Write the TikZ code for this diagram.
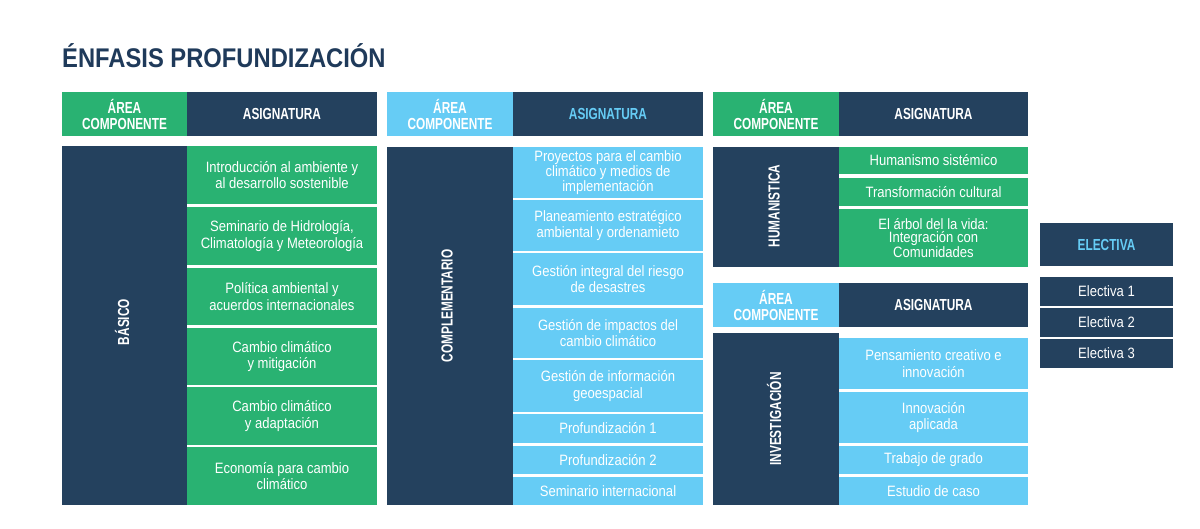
\documentclass[tikz,border=0pt]{standalone}
\usepackage{fontspec}
\setmainfont{Liberation Sans}
\newfontfamily\cnreg[FakeStretch=0.87]{Liberation Sans}
\newfontfamily\cnbold[FakeStretch=0.74]{Liberation Sans}
\newfontfamily\ttlfont[FakeStretch=0.88]{Liberation Sans}
\definecolor{navy}{RGB}{36,65,94}
\definecolor{grn}{RGB}{41,178,114}
\definecolor{lblue}{RGB}{102,204,245}
\definecolor{ttlc}{RGB}{31,58,90}
\newcommand\cellbox[7]{% name, style, x1, y1, x2, y2, text
  \pgfmathsetmacro\bw{#5-#3}\pgfmathsetmacro\bh{#6-#4}%
  \node[#2, minimum width=\bw pt, minimum height=\bh pt] (#1) at ({(#3+#5)/2},{(#4+#6)/2}) {#7};}
\tikzset{
  cell/.style={inner sep=0pt, outer sep=0pt, align=center, text=white},
  rowtxt/.style={cell, font=\cnreg\fontsize{15}{16.5}\selectfont},
  tightrow/.style={cell, font=\cnreg\fontsize{15}{13.5}\selectfont},
  hdtxt/.style={cell, font=\cnbold\bfseries\fontsize{16}{16}\selectfont},
  vlabel/.style={cell, font=\cnbold\bfseries\fontsize{16}{16}\selectfont, rotate=90},
}
\begin{document}
\begin{tikzpicture}[x=1pt,y=-1pt]
\fill[white] (0,0) rectangle (1200,529);
\useasboundingbox (0,0) rectangle (1200,529);
% title
\node[anchor=base west, inner sep=0pt, text=ttlc, font=\ttlfont\bfseries\fontsize{27}{28}\selectfont] (title) at (62,68) {ÉNFASIS PROFUNDIZACIÓN};
% ---------- column 1 ----------
\cellbox{h1a}{hdtxt, fill=grn}{62}{92}{187}{136}{ÁREA\\COMPONENTE}
\cellbox{h1b}{hdtxt, fill=navy}{187}{92}{377}{136}{ASIGNATURA}
\cellbox{b1}{cell, fill=navy}{62}{146}{187}{505}{}
\node[vlabel] (l1) at (122,322) {BÁSICO};
\cellbox{r11}{rowtxt, fill=grn}{187}{146}{377}{204}{Introducción al ambiente y\\al desarrollo sostenible}
\cellbox{r12}{rowtxt, fill=grn}{187}{207}{377}{265}{Seminario de Hidrología,\\Climatología y Meteorología}
\cellbox{r13}{rowtxt, fill=grn}{187}{268}{377}{325}{Política ambiental y\\acuerdos internacionales}
\cellbox{r14}{rowtxt, fill=grn}{187}{328}{377}{385}{Cambio climático\\y mitigación}
\cellbox{r15}{rowtxt, fill=grn}{187}{387}{377}{445}{Cambio climático\\y adaptación}
\cellbox{r16}{rowtxt, fill=grn}{187}{447}{377}{505}{Economía para cambio\\climático}
% ---------- column 2 ----------
\cellbox{h2a}{hdtxt, fill=lblue}{387}{92}{513}{136}{ÁREA\\COMPONENTE}
\cellbox{h2b}{hdtxt, fill=navy, text=lblue}{513}{92}{703}{136}{ASIGNATURA}
\cellbox{b2}{cell, fill=navy}{387}{147}{513}{505}{}
\node[vlabel] (l2) at (447,306) {COMPLEMENTARIO};
\cellbox{r21}{tightrow, fill=lblue}{513}{147}{703}{198}{Proyectos para el cambio\\climático y medios de\\implementación}
\cellbox{r22}{rowtxt, fill=lblue}{513}{200}{703}{251}{Planeamiento estratégico\\ambiental y ordenamieto}
\cellbox{r23}{rowtxt, fill=lblue}{513}{253}{703}{305}{Gestión integral del riesgo\\de desastres}
\cellbox{r24}{rowtxt, fill=lblue}{513}{308}{703}{358}{Gestión de impactos del\\cambio climático}
\cellbox{r25}{rowtxt, fill=lblue}{513}{360}{703}{412}{Gestión de información\\geoespacial}
\cellbox{r26}{rowtxt, fill=lblue}{513}{414}{703}{443}{Profundización 1}
\cellbox{r27}{rowtxt, fill=lblue}{513}{446}{703}{474}{Profundización 2}
\cellbox{r28}{rowtxt, fill=lblue}{513}{477}{703}{505}{Seminario internacional}
% ---------- column 3 top ----------
\cellbox{h3a}{hdtxt, fill=grn}{713}{92}{839}{136}{ÁREA\\COMPONENTE}
\cellbox{h3b}{hdtxt, fill=navy}{839}{92}{1028}{136}{ASIGNATURA}
\cellbox{b3}{cell, fill=navy}{713}{147}{839}{267}{}
\node[vlabel] (l3) at (774,206) {HUMANISTICA};
\cellbox{r31}{rowtxt, fill=grn}{839}{147}{1028}{174}{Humanismo sistémico}
\cellbox{r32}{rowtxt, fill=grn}{839}{178}{1028}{206}{Transformación cultural}
\cellbox{r33}{tightrow, fill=grn}{839}{209}{1028}{267}{El árbol del la vida:\\Integración con\\Comunidades}
% ---------- column 3 bottom ----------
\cellbox{h4a}{hdtxt, fill=lblue}{713}{283}{839}{327}{ÁREA\\COMPONENTE}
\cellbox{h4b}{hdtxt, fill=navy}{839}{283}{1028}{327}{ASIGNATURA}
\cellbox{b4}{cell, fill=navy}{713}{333}{839}{505}{}
\node[vlabel] (l4) at (774,419) {INVESTIGACIÓN};
\cellbox{r41}{rowtxt, fill=lblue}{839}{338}{1028}{389}{Pensamiento creativo e\\innovación}
\cellbox{r42}{rowtxt, fill=lblue}{839}{392}{1028}{443}{Innovación\\aplicada}
\cellbox{r43}{rowtxt, fill=lblue}{839}{446}{1028}{474}{Trabajo de grado}
\cellbox{r44}{rowtxt, fill=lblue}{839}{477}{1028}{505}{Estudio de caso}
% ---------- electives ----------
\cellbox{he}{hdtxt, fill=navy, text=lblue}{1040}{223}{1173}{266}{ELECTIVA}
\cellbox{e1}{rowtxt, fill=navy}{1040}{277}{1173}{306}{Electiva 1}
\cellbox{e2}{rowtxt, fill=navy}{1040}{308}{1173}{337}{Electiva 2}
\cellbox{e3}{rowtxt, fill=navy}{1040}{339}{1173}{368}{Electiva 3}
\end{tikzpicture}
\end{document}
